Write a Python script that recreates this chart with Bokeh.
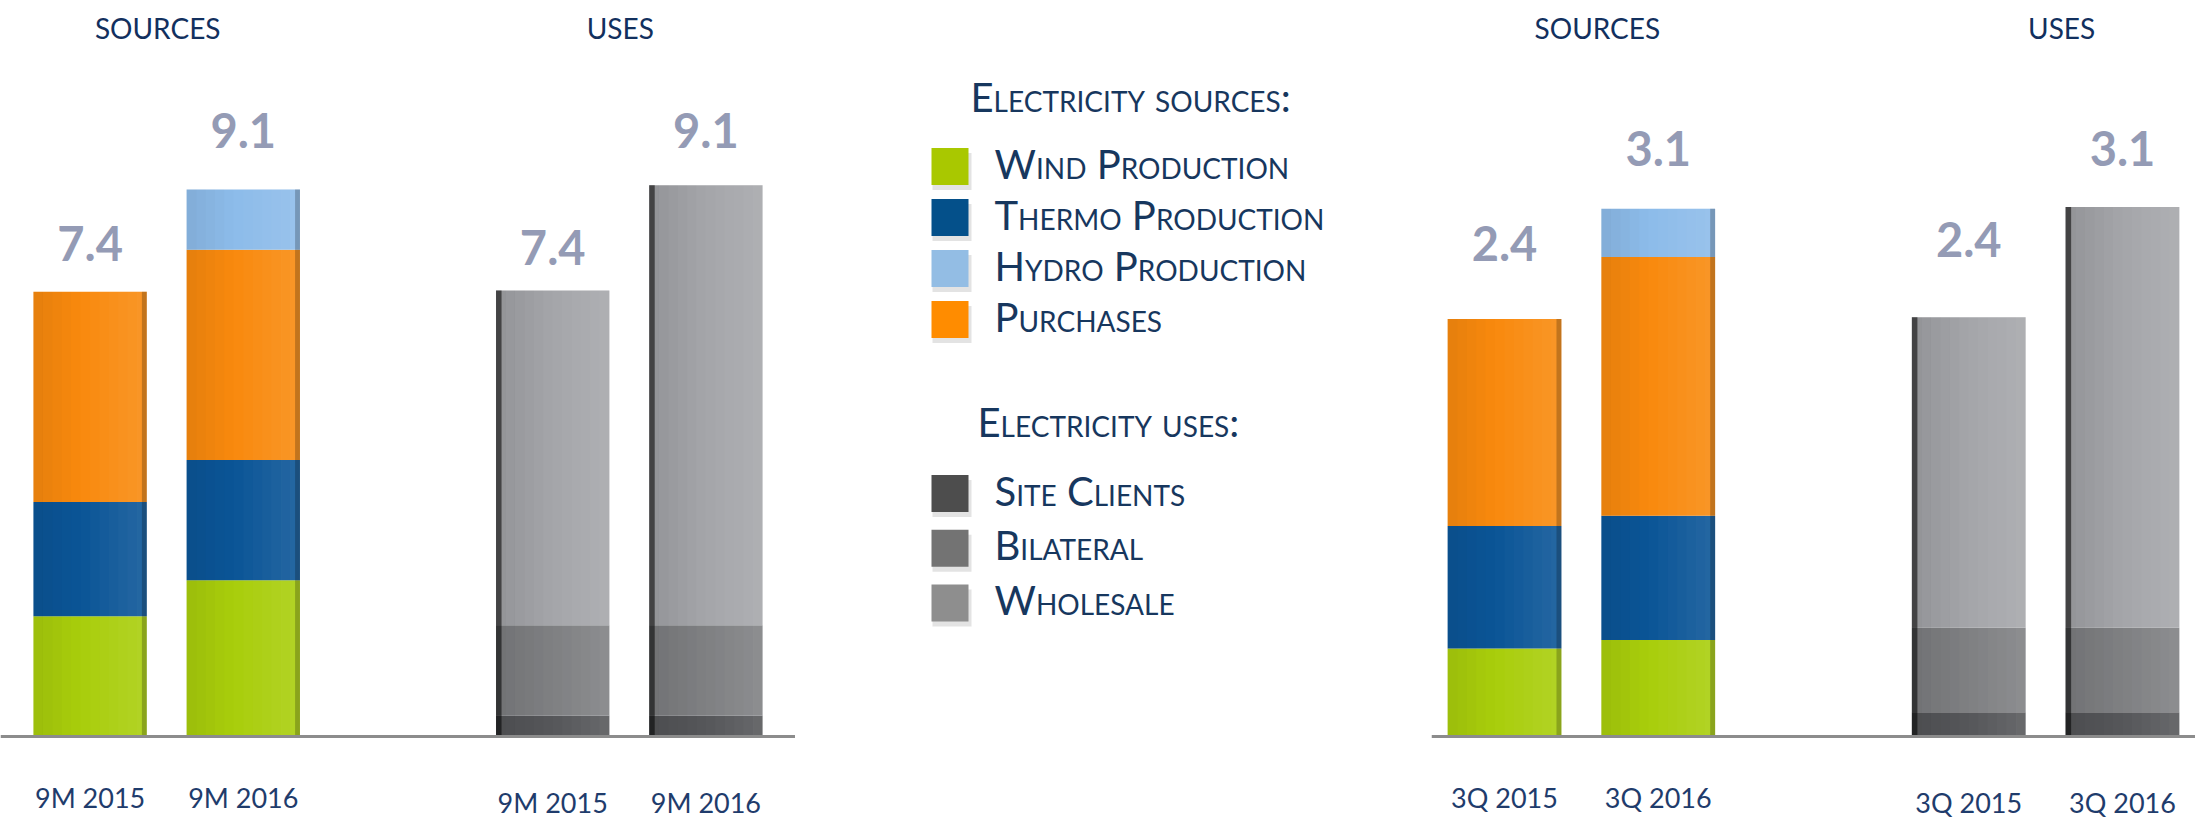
from bokeh.plotting import figure
from bokeh.models import ColumnDataSource, FactorRange, Range1d, Span
from bokeh.layouts import row
from bokeh.embed import file_html
from bokeh.resources import INLINE
from bokeh.core.properties import value

# ---------------- data ----------------
groups = ["SOURCES", "USES"]
periods_9m = ["9M 2015", "9M 2016"]
periods_3q = ["3Q 2015", "3Q 2016"]

source_names = ["Wind Production", "Thermo Production", "Hydro Production", "Purchases"]
use_names = ["Site Clients", "Bilateral", "Wholesale"]
legend_titles = ["Electricity sources:", "Electricity uses:"]

# 9M panel (left)
wind_9m = [2.0, 2.6]
thermo_9m = [1.9, 2.0]
purchases_9m = [3.5, 3.5]
hydro_9m = [0.0, 1.0]
site_9m = [0.35, 0.35]
bilateral_9m = [1.5, 1.5]
wholesale_9m = [5.57, 7.32]
sources_labels_9m = ["7.4", "9.1"]
uses_labels_9m = ["7.4", "9.1"]

# 3Q panel (right)
wind_3q = [0.51, 0.56]
thermo_3q = [0.71, 0.72]
purchases_3q = [1.20, 1.50]
hydro_3q = [0.0, 0.28]
site_3q = [0.14, 0.14]
bilateral_3q = [0.49, 0.49]
wholesale_3q = [1.80, 2.44]
sources_labels_3q = ["2.4", "3.1"]
uses_labels_3q = ["2.4", "3.1"]

# ---------------- styles ----------------
FONT = "Lato"
NAVY = "#12305E"
AXIS_NAVY = "#1F3C6C"
LEG_NAVY = "#17375E"
LABEL_GREY = "#949BB5"
bar_src_colors = ["#A9CE0C", "#0B5597", "#F98A0E", "#8DBCEA"]   # wind, thermo, purchases, hydro
bar_use_colors = ["#56575A", "#7F8083", "#A5A6AA"]              # site, bilateral, wholesale
leg_src_colors = ["#A9C800", "#04508A", "#93BDE4", "#FF8C00"]   # legend order
leg_use_colors = ["#4D4D4D", "#737373", "#8E8E8E"]
H = 820
BAR_W = 0.74
N_SHADE = 12


def make_panel(periods, wind, thermo, purchases, hydro, site, bilateral, wholesale,
               src_labels, use_labels, width, rpad, y_start, y_end, label_dy, title_dx):
    factors = [(g, per) for g in groups for per in periods]
    xr = FactorRange(factors=factors, group_padding=1.02, factor_padding=0.0,
                     range_padding=rpad, range_padding_units="absolute")
    p = figure(x_range=xr, y_range=Range1d(y_start, y_end), width=width, height=H,
               output_backend="svg", toolbar_location=None, y_axis_type=None,
               x_axis_location=None,
               min_border_left=0, min_border_right=0, min_border_top=0,
               min_border_bottom=0, outline_line_color=None)
    p.grid.visible = False

    xs_s = [("SOURCES", per) for per in periods]
    xs_u = [("USES", per) for per in periods]
    src_s = ColumnDataSource(dict(x=xs_s, wind=wind, thermo=thermo,
                                  purchases=purchases, hydro=hydro))
    p.vbar_stack(["wind", "thermo", "purchases", "hydro"], x="x", width=BAR_W,
                 source=src_s, fill_color=bar_src_colors, line_color=None)
    src_u = ColumnDataSource(dict(x=xs_u, site=site, bilateral=bilateral,
                                  wholesale=wholesale))
    p.vbar_stack(["site", "bilateral", "wholesale"], x="x", width=BAR_W,
                 source=src_u, fill_color=bar_use_colors, line_color=None)

    tot_s = [a + b + c + d for a, b, c, d in zip(wind, thermo, purchases, hydro)]
    tot_u = [a + b + c for a, b, c in zip(site, bilateral, wholesale)]

    # smooth left-dark / right-light shading imitating the original 3-D bars
    def shade(xs, tops, a_left, a_right):
        sx, st, sc, sa = [], [], [], []
        step = BAR_W / N_SHADE
        for x, t in zip(xs, tops):
            for i in range(N_SHADE):
                f = i / (N_SHADE - 1)
                a = a_left + (a_right - a_left) * f
                sx.append(x + (-BAR_W / 2 + (i + 0.5) * step,))
                st.append(t)
                sc.append("black" if a < 0 else "white")
                sa.append(abs(a))
        p.vbar(x="x", top="t", width=step * 1.02, fill_color="c", fill_alpha="a",
               line_color=None,
               source=ColumnDataSource(dict(x=sx, t=st, c=sc, a=sa)))

    def edge(xs, tops, off, w, alpha):
        p.vbar(x=[x + (off,) for x in xs], top=tops, width=w, fill_color="black",
               fill_alpha=alpha, line_color=None)

    shade(xs_s, tot_s, -0.07, 0.10)
    edge(xs_s, tot_s, BAR_W / 2 - 0.016, 0.032, 0.22)
    shade(xs_u, tot_u, -0.10, 0.10)
    edge(xs_u, tot_u, -BAR_W / 2 + 0.018, 0.036, 0.55)

    lab = ColumnDataSource(dict(x=xs_s + xs_u, y=tot_s + tot_u,
                                t=src_labels + use_labels, dy=label_dy))
    p.text(x="x", y="y", text="t", y_offset="dy", source=lab, text_align="center",
           text_baseline="middle", text_font=value(FONT), text_font_style="bold",
           text_font_size="47px", text_color=LABEL_GREY)

    ttl = ColumnDataSource(dict(x=groups, y=[y_end] * len(groups), t=groups))
    p.text(x="x", y="y", text="t", source=ttl, x_offset=title_dx, y_offset=27,
           text_align="center", text_baseline="middle", text_font=value(FONT),
           text_font_size="28px", text_color=NAVY)

    p.add_layout(Span(location=0, dimension="width", line_color="#8C8C8C", line_width=3))

    per = ColumnDataSource(dict(x=xs_s + xs_u, y=[0] * 4, t=periods + periods,
                                dy=[61, 61, 66, 66]))
    p.text(x="x", y="y", text="t", y_offset="dy", source=per, text_align="center",
           text_baseline="middle", text_font=value(FONT), text_font_size="27px",
           text_color=AXIS_NAVY)
    return p


left = make_panel(periods_9m, wind_9m, thermo_9m, purchases_9m, hydro_9m, site_9m,
                  bilateral_9m, wholesale_9m, sources_labels_9m, uses_labels_9m,
                  width=795, rpad=0.085, y_start=-1.398, y_end=12.246,
                  label_dy=[-48, -59, -43, -55], title_dx=-9)

right = make_panel(periods_3q, wind_3q, thermo_3q, purchases_3q, hydro_3q, site_3q,
                   bilateral_3q, wholesale_3q, sources_labels_3q, uses_labels_3q,
                   width=764, rpad=-0.025, y_start=-0.487, y_end=4.267,
                   label_dy=[-76, -60, -78, -58], title_dx=16)

# ---------------- legend panel (pixel layout) ----------------
LW = 636
lg = figure(width=LW, height=H, output_backend="svg", toolbar_location=None,
            x_axis_location=None, y_axis_location=None,
            x_range=Range1d(0, LW), y_range=Range1d(H, 0),
            min_border_left=0, min_border_right=0, min_border_top=0, min_border_bottom=0,
            outline_line_color=None,
            stylesheets=[":host { font-variant: small-caps; }"])
lg.grid.visible = False

SW_X, TXT_X, SW = 154.5, 199, 37
rows_src = [166 + i * 51.0 for i in range(len(source_names))]
rows_use = [493 + i * 54.7 for i in range(len(use_names))]
leg = ColumnDataSource(dict(y=rows_src + rows_use, name=source_names + use_names,
                            color=leg_src_colors + leg_use_colors,
                            ys=[v + 5 for v in rows_src + rows_use]))
lg.rect(x=SW_X + 2, y="ys", width=SW + 2, height=SW, source=leg, fill_color="#9A9A9A",
        fill_alpha=0.28, line_color=None)
lg.rect(x=SW_X, y="y", width=SW, height=SW, source=leg, fill_color="color",
        line_color=None)
lg.text(x=TXT_X, y="y", text="name", source=leg, text_baseline="middle", y_offset=-3,
        text_font=value(FONT), text_font_size="40px", text_color=LEG_NAVY)
hd = ColumnDataSource(dict(x=[175, 182], y=[96, 421], t=legend_titles))
lg.text(x="x", y="y", text="t", source=hd, text_baseline="middle",
        text_font=value(FONT), text_font_size="40px", text_color=LEG_NAVY)

layout = row(left, lg, right)
open("out.html", "w").write(file_html(layout, INLINE))
